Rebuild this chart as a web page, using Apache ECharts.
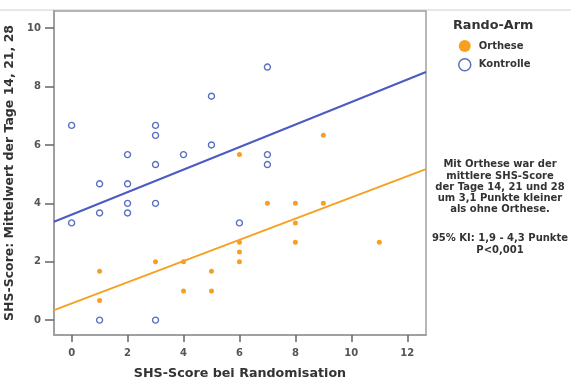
<!DOCTYPE html>
<html>
<head>
<meta charset="utf-8">
<script src="https://cdn.jsdelivr.net/npm/echarts@6/dist/echarts.min.js"></script>
<style>
html,body{margin:0;padding:0;background:#fff;}
#c{width:571px;height:383px;}
</style>
</head>
<body>
<div id="c"></div>
<script>
// Data
const xTicks = [0, 2, 4, 6, 8, 10, 12];
const yTicks = [0, 2, 4, 6, 8, 10];
const kontrolleX = [0, 0, 1, 1, 1, 2, 2, 2, 2, 3, 3, 3, 3, 3, 4, 5, 5, 6, 7, 7, 7];
const kontrolleY = [6.67, 3.33, 4.67, 3.67, 0, 5.67, 4.67, 4, 3.67, 6.67, 6.33, 5.33, 4, 0, 5.67, 7.67, 6, 3.33, 8.67, 5.67, 5.33];
const ortheseX = [1, 1, 3, 4, 4, 5, 5, 6, 6, 6, 6, 7, 8, 8, 8, 9, 9, 11];
const ortheseY = [1.67, 0.67, 2, 2, 1, 1.67, 1, 5.67, 2.67, 2.33, 2, 4, 4, 3.33, 2.67, 6.33, 4, 2.67];
const fitX = [-0.63, 12.67];
const kontrolleFit = [3.37, 8.5];
const ortheseFit = [0.34, 5.17];
const legendNames = ['Orthese', 'Kontrolle'];
const noteLines = ['Mit Orthese war der', 'mittlere SHS-Score', 'der Tage 14, 21 und 28', 'um 3,1 Punkte kleiner', 'als ohne Orthese.'];
const ciLines = ['95% KI: 1,9 - 4,3 Punkte', 'P<0,001'];

const pair = (xs, ys) => xs.map((x, i) => [x, ys[i]]);
const blue = '#5a6fc0';
const orange = '#f7a020';
const font = '"DejaVu Sans", Verdana, sans-serif';

const chart = echarts.init(document.getElementById('c'), null, {renderer: 'canvas'});
chart.setOption({
  animation: false,
  backgroundColor: '#fff',
  grid: {left: 54, top: 11, right: 145, bottom: 48, show: true, borderColor: '#a0a0a0', borderWidth: 1.5,
         containLabel: false, outerBoundsMode: 'none'},
  xAxis: {
    type: 'value', min: -0.63, max: 12.67,
    name: 'SHS-Score bei Randomisation', nameLocation: 'middle', nameGap: 32,
    nameTextStyle: {fontFamily: font, fontWeight: 'bold', fontSize: 12.7, color: '#333'},
    axisLine: {show: true, onZero: false, lineStyle: {color: '#a0a0a0', width: 2}},
    axisTick: {show: true, customValues: xTicks, length: 7, lineStyle: {color: '#666', width: 1.5}},
    axisLabel: {customValues: xTicks, fontFamily: font, fontSize: 10, fontWeight: 'bold', color: '#555', margin: 13},
    splitLine: {show: false}
  },
  yAxis: {
    type: 'value', min: -0.51, max: 10.59,
    name: 'SHS-Score: Mittelwert der Tage 14, 21, 28', nameLocation: 'middle', nameGap: 31,
    nameTextStyle: {fontFamily: font, fontWeight: 'bold', fontSize: 12.5, color: '#333'},
    axisLine: {show: true, onZero: false, lineStyle: {color: '#a0a0a0', width: 2}},
    axisTick: {show: true, customValues: yTicks, length: 9, lineStyle: {color: '#666', width: 1.5}},
    axisLabel: {customValues: yTicks, fontFamily: font, fontSize: 10, fontWeight: 'bold', color: '#555', margin: 13},
    splitLine: {show: false}
  },
  legend: {
    data: [
      {name: legendNames[0], icon: 'circle', itemStyle: {color: orange}},
      {name: legendNames[1], icon: 'circle', itemStyle: {color: '#fff', borderColor: blue, borderWidth: 1.5}}
    ],
    orient: 'vertical', left: 458, top: 40, padding: 0, itemWidth: 12, itemHeight: 12, itemGap: 6,
    textStyle: {fontFamily: font, fontSize: 10, fontWeight: 'bold', color: '#333', padding: [0, 0, 0, 3]},
    selectedMode: false
  },
  graphic: [
    {type: 'line', shape: {x1: 0, y1: 10, x2: 571, y2: 10}, style: {stroke: '#cfcfcf', lineWidth: 1}, z: -1},
    {type: 'text', left: 453, top: 19, style: {text: 'Rando-Arm', font: 'bold 12.8px ' + font, fill: '#333'}},
    {type: 'text', x: 500, y: 159, style: {text: noteLines.join('\n'), font: 'bold 10px ' + font, fill: '#333', align: 'center', lineHeight: 11.3}},
    {type: 'text', x: 500, y: 233, style: {text: ciLines.join('\n'), font: 'bold 10px ' + font, fill: '#333', align: 'center', lineHeight: 11.3}}
  ],
  series: [
    {name: legendNames[0], type: 'scatter', data: pair(ortheseX, ortheseY), symbol: 'circle', symbolSize: 5,
     itemStyle: {color: orange, opacity: 1}, z: 3},
    {name: legendNames[1], type: 'scatter', data: pair(kontrolleX, kontrolleY), symbol: 'circle', symbolSize: 6,
     itemStyle: {color: 'rgba(255,255,255,0)', borderColor: blue, borderWidth: 1.4, opacity: 1}, z: 3},
    {name: 'fitO', type: 'line', data: pair(fitX, ortheseFit), symbol: 'none', lineStyle: {color: orange, width: 1.8}, z: 2, silent: true},
    {name: 'fitK', type: 'line', data: pair(fitX, kontrolleFit), symbol: 'none', lineStyle: {color: '#4a5cc0', width: 2}, z: 2, silent: true}
  ]
});
</script>
</body>
</html>
